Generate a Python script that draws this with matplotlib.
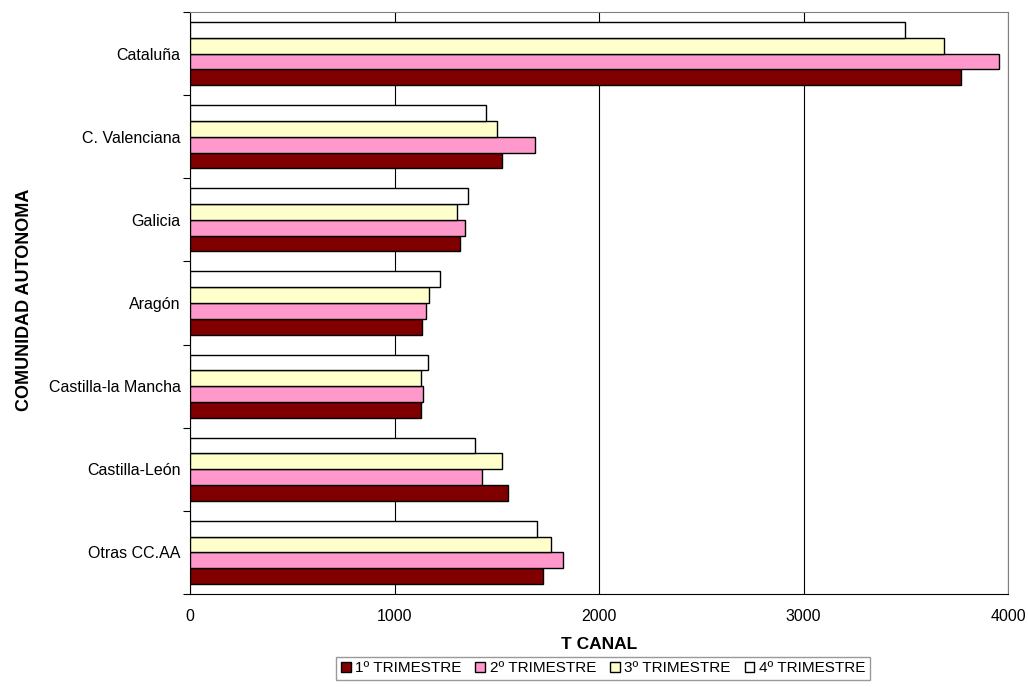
import numpy as np
import matplotlib.pyplot as plt

plt.rcParams['font.family'] = ['Liberation Sans', 'DejaVu Sans']

regiones = ['Cataluña', 'C. Valenciana', 'Galicia', 'Aragón',
            'Castilla-la Mancha', 'Castilla-León', 'Otras CC.AA']
t1 = [3770, 1525, 1320, 1135, 1130, 1555, 1725]
t2 = [3955, 1687, 1345, 1155, 1140, 1425, 1826]
t3 = [3685, 1501, 1305, 1170, 1130, 1526, 1765]
t4 = [3495, 1448, 1360, 1223, 1165, 1395, 1698]
series = ['1º TRIMESTRE', '2º TRIMESTRE', '3º TRIMESTRE', '4º TRIMESTRE']
colores = ['#800000', '#FF99CC', '#FFFFCC', '#FFFFFF']

fig = plt.figure(figsize=(10.28, 6.87), dpi=100)
ax = fig.add_axes([0.185, 0.1354, 0.7955, 0.8471])

n = len(regiones)
y = np.arange(n)[::-1]  # Cataluña at top
h = 0.19
datos = [t1, t2, t3, t4]
for i, (vals, nombre, c) in enumerate(zip(datos, series, colores)):
    # 1º trimestre at the bottom of each group, 4º at the top
    ax.barh(y + (i - 1.5) * h, vals, height=h, color=c,
            edgecolor='black', linewidth=1.0, label=nombre, zorder=3)

ax.set_xlim(0, 4000)
ax.set_ylim(-0.5, n - 0.5)
ax.set_xticks([0, 1000, 2000, 3000, 4000])
ax.set_xticklabels(['0', '1000', '2000', '3000', '4000'], fontsize=11.5)
ax.xaxis.grid(True, color='black', linewidth=0.8, zorder=0)
ax.tick_params(axis='x', length=0, pad=11)

ax.set_yticks(np.arange(n + 1) - 0.5)
ax.set_yticklabels([])
ax.set_yticks(y, minor=True)
ax.set_yticklabels(regiones, minor=True, fontsize=11.5)
ax.tick_params(axis='y', which='major', length=5, direction='out', color='black')
ax.tick_params(axis='y', which='minor', length=0, pad=7)

for s in ['top', 'right']:
    ax.spines[s].set_color('#808080')
for s in ['left', 'bottom']:
    ax.spines[s].set_color('black')

ax.set_xlabel('T CANAL', fontsize=12.5, fontweight='bold', labelpad=9)
ax.set_ylabel('COMUNIDAD AUTONOMA', fontsize=13, fontweight='bold')
ax.yaxis.set_label_coords(-0.203, 0.505)
ax.yaxis.label.set_va('center')

handles, labels = ax.get_legend_handles_labels()
leg = fig.legend(handles, labels, loc='center', bbox_to_anchor=(0.5866, 0.027), ncol=4,
                 fontsize=11, frameon=True, fancybox=False, edgecolor='#808080',
                 handlelength=0.65, handleheight=0.65, handletextpad=0.3,
                 columnspacing=0.9, borderpad=0.3, borderaxespad=0)
leg.get_frame().set_linewidth(1.0)

fig.savefig('out.png', dpi=100)
